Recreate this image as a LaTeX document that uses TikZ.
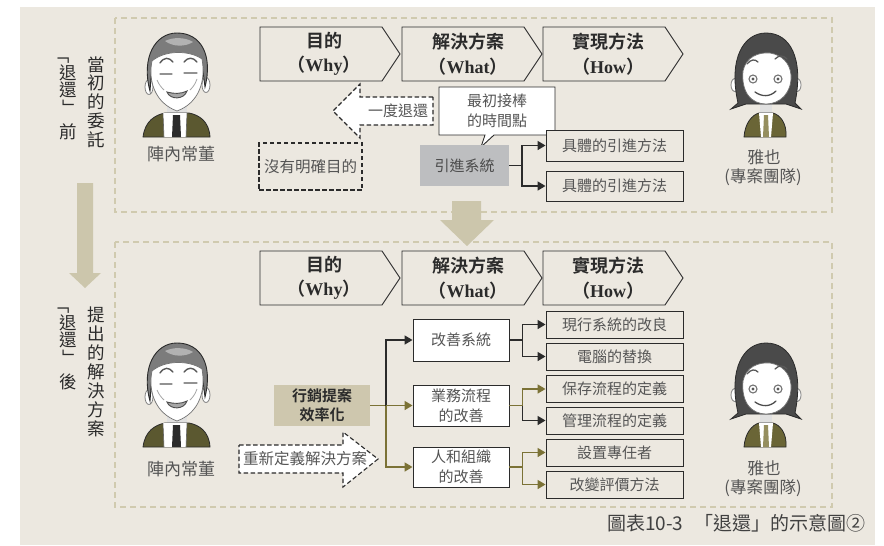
\documentclass[tikz,border=0pt]{standalone}
\usepackage{fontspec}
\newfontfamily\cjk{Noto Sans CJK TC}[BoldFont={Noto Sans CJK TC Bold}]
\newfontfamily\latinb{Liberation Serif}
\usetikzlibrary{arrows.meta}

\definecolor{paper}{HTML}{ECE8E0}
\definecolor{framec}{HTML}{D0CAAF}
\definecolor{bigarrow}{HTML}{CCC6AC}
\definecolor{olive}{HTML}{7B7236}
\definecolor{ink}{HTML}{2B2B2B}
\definecolor{soft}{HTML}{555555}
\definecolor{graybox}{HTML}{BDBEC0}
\definecolor{goalfill}{HTML}{CEC7AE}
\definecolor{jacket}{HTML}{5B5830}
\definecolor{jacketw}{HTML}{6A6536}
\definecolor{hairm}{HTML}{7C7C7C}
\definecolor{hairw}{HTML}{4A4A4A}

\tikzset{
  frameline/.style={draw=framec, line width=2.4pt, dash pattern=on 6pt off 4pt},
  head/.style={align=center, font=\cjk\bfseries\fontsize{18}{24.5}\selectfont, text=ink, inner sep=0pt},
  plainbox/.style={draw=ink, line width=0.9pt, inner sep=0pt, minimum width=137pt, minimum height=27pt,
    font=\cjk\fontsize{15}{20}\selectfont, text=soft, fill=paper},
  whitebox/.style={draw=ink, line width=0.9pt, inner sep=0pt, minimum width=96pt,
    align=center, font=\cjk\fontsize{15}{20}\selectfont, text=soft, fill=white},
  dashline/.style={draw=ink, line width=1.1pt, dash pattern=on 4.5pt off 2.5pt},
  conn/.style={draw=ink, line width=1.5pt, -{Triangle[length=8pt,width=9pt]}},
  oconn/.style={draw=olive, line width=1.5pt, -{Triangle[length=8pt,width=9pt]}},
  oline/.style={draw=olive, line width=1.5pt},
  vtext/.style={font=\cjk\fontsize{17.5}{17.5}\selectfont, text=ink, inner sep=0pt},
  label/.style={font=\cjk\fontsize{16.5}{20}\selectfont, text=soft, inner sep=0pt},
  captext/.style={font=\cjk\fontsize{19}{22}\selectfont, text=ink!90, inner sep=0pt},
  chevron/.pic={\draw[line width=0.9pt, draw=ink, fill=paper]
      (0,0) -- (122,0) -- (140,27) -- (122,54) -- (0,54) -- cycle;},
  man/.pic={
    % ears
    \draw[gray, fill=white, line width=0.8pt] (-28,54) ellipse [x radius=4, y radius=7.5];
    \draw[gray, fill=white, line width=0.8pt] (29,52) ellipse [x radius=4, y radius=7.5];
    % neck
    \fill[black!12] (-10,68) rectangle (10,84);
    % jacket, shirt and tie
    \draw[ink, fill=jacket, line width=0.8pt] (-34,104) .. controls (-32,88) and (-22,82) .. (-12,80)
      -- (12,80) .. controls (22,82) and (32,88) .. (33,104) -- cycle;
    \fill[white] (-14,80) -- (10,80) -- (9,104) -- (-13,104) -- cycle;
    \draw[black!60, line width=0.6pt] (-14,80) -- (-13,104) (10,80) -- (9,104);
    \fill[ink] (-4,82) -- (3,82) -- (4,104) -- (-5,104) -- cycle;
    % hair
    \draw[ink, fill=hairm, line width=0.9pt] (-27,58) .. controls (-36,25) and (-22,0) .. (0,0)
      .. controls (24,0) and (36,22) .. (28,54) -- (25,30) .. controls (12,18) and (-12,18) .. (-25,32) -- cycle;
    \fill[black!30] (-12,8) .. controls (-4,4) and (8,4) .. (16,9) .. controls (8,14) and (-4,14) .. cycle;
    % face
    \draw[black!55, fill=white, line width=0.7pt] (-25,28) .. controls (-12,17) and (12,17) .. (25,26)
      .. controls (29,48) and (22,70) .. (0,78) .. controls (-22,70) and (-29,48) .. cycle;
    % brows, closed eyes, mouth
    \draw[black!65, line width=1.4pt, line cap=round]
      (-17,30) .. controls (-13,24) and (-8,24) .. (-4,29)
      (7,29) .. controls (11,24) and (16,24) .. (20,29)
      (-17,41) -- (-5,41) (7,40) -- (20,40);
    \draw[black!35, line width=0.8pt] (-20,47) .. controls (-18,52) and (-15,55) .. (-13,57)
      (20,46) .. controls (18,52) and (15,55) .. (13,57);
    \draw[black!70, fill=black!35, line width=0.9pt] (-10,59) .. controls (-3,61) and (4,61) .. (10,58)
      .. controls (7,67) and (-7,67) .. cycle;
  },
  woman/.pic={
    % ears
    \draw[gray, fill=white, line width=0.8pt] (-31,52) ellipse [x radius=4, y radius=6.5];
    \draw[gray, fill=white, line width=0.8pt] (31,52) ellipse [x radius=4, y radius=6.5];
    % neck
    \fill[black!12] (-6,66) rectangle (6,84);
    % back hair
    \draw[ink, fill=hairw, line width=0.8pt] (-28,70) .. controls (-38,25) and (-22,0) .. (0,0)
      .. controls (24,0) and (38,25) .. (29,70) -- (35,76) -- (20,71) -- (-20,71) -- (-35,76) -- cycle;
    % jacket, collar and tie
    \draw[ink, fill=jacketw, line width=0.8pt] (-22,104) .. controls (-21,90) and (-14,82) .. (-7,80)
      -- (7,80) .. controls (14,82) and (21,90) .. (20,104) -- cycle;
    \fill[white] (-7,80) -- (7,80) -- (5,104) -- (-5,104) -- cycle;
    \fill[olive!80] (-2,82) -- (2,82) -- (3,104) -- (-3,104) -- cycle;
    % face under the fringe
    \draw[black!55, fill=white, line width=0.7pt] (-23,38) .. controls (-20,24) and (-8,19) .. (4,20)
      .. controls (16,22) and (24,30) .. (25,42) .. controls (26,60) and (14,71) .. (0,71)
      .. controls (-14,71) and (-25,60) .. cycle;
    % brows, eyes, smile
    \draw[black!65, line width=1.3pt, line cap=round]
      (-19,31) .. controls (-15,26) and (-11,26) .. (-8,29)
      (9,26) .. controls (13,22) and (17,22) .. (21,26);
    \draw[black!55, fill=white, line width=1.1pt] (-13,46) circle [radius=4] (12,46) circle [radius=4];
    \fill[black!65] (-13,46) circle [radius=1.6] (12,46) circle [radius=1.6];
    \draw[black!70, line width=1.3pt, line cap=round] (-11,59) .. controls (-4,64) and (4,64) .. (10,58);
  }
}

\begin{document}
\begin{tikzpicture}[x=1pt,y=-1pt]
\useasboundingbox (0,0) rectangle (884,546);
\fill[paper] (20,7) rectangle (875,545);

% the two dashed frames
\draw[frameline] (115,18) rectangle (832,212);
\draw[frameline] (115,242) rectangle (832,507);

% left: the big downward arrow
\fill[bigarrow] (77,183) -- (93,183) -- (93,273) -- (101,273) -- (85,288) -- (69,273) -- (77,273) -- cycle;
% centre: arrow between the frames
\fill[bigarrow] (452,201) -- (481,201) -- (481,220) -- (494,220) -- (467,246) -- (440,220) -- (452,220) -- cycle;

% vertical captions (corner brackets turned for vertical setting)
\foreach \c [count=\i from 0] in {當,初,的,委,託}
  \node[vtext] (vta\i) at (96,64.5+18.75*\i) {\c};
\node[vtext, rotate=-90] (vtb1) at (62,55) {「};
\node[vtext] (vtb2) at (68,72.5) {退};
\node[vtext] (vtb3) at (68,90) {還};
\node[vtext, rotate=-90] (vtb4) at (69,108) {」};
\node[vtext] (vtb5) at (68,131.5) {前};
\foreach \c [count=\i from 0] in {提,出,的,解,決,方,案}
  \node[vtext] (vtc\i) at (96,314.5+19*\i) {\c};
\node[vtext, rotate=-90] (vtd1) at (62,305) {「};
\node[vtext] (vtd2) at (68,322.5) {退};
\node[vtext] (vtd3) at (68,340) {還};
\node[vtext, rotate=-90] (vtd4) at (69,358) {」};
\node[vtext] (vtd5) at (68,381.5) {後};

% people
\pic at (177,33) {man};
\pic at (177,343) {man};
\pic at (766,33) {woman};
\pic at (766,343) {woman};
\node[label, font=\cjk\fontsize{17}{20}\selectfont] (boss1) at (181,154) {陣內常董};
\node[label, font=\cjk\fontsize{17}{20}\selectfont] (boss2) at (181,469) {陣內常董};
\node[label] (team1a) at (764,157) {雅也};
\node[label] (team1b) at (763,177) {(專案團隊)};
\node[label] (team2a) at (764,468) {雅也};
\node[label] (team2b) at (763,488) {(專案團隊)};

% header chevrons
\foreach \y/\r in {27/a,251/b} {
  \pic at (260,\y) {chevron};
  \pic at (402,\y) {chevron};
  \pic at (543,\y) {chevron};
  \node[head] (why\r) at (324,\y+27) {目的\\（{\latinb\bfseries Why}）};
  \node[head] (what\r) at (468,\y+27) {解決方案\\（{\latinb\bfseries What}）};
  \node[head] (how\r) at (608,\y+27) {實現方法\\（{\latinb\bfseries How}）};
}

% ---- upper frame: the original request ----
\draw[dashline, fill=white] (433,97) -- (360,97) -- (360,84) -- (333,111) -- (360,138) -- (360,125) -- (433,125) -- cycle;
\node[label, font=\cjk\fontsize{15}{20}\selectfont] (back) at (398,111) {一度退還};
\node[dashline, minimum width=103pt, minimum height=47pt, inner sep=0pt,
  font=\cjk\fontsize{15.5}{20}\selectfont, text=soft] (noaim) at (310.5,166.5) {沒有明確目的};

\draw[ink, line width=0.9pt, fill=white] (439,87) -- (555,87) -- (555,135) -- (494,135) -- (481,147) -- (485,135) -- (439,135) -- cycle;
\node[align=center, font=\cjk\fontsize{15}{20}\selectfont, text=soft, inner sep=0pt] (handover) at (497,111) {最初接棒\\的時間點};

\node[fill=graybox, minimum width=89pt, minimum height=41pt, inner sep=0pt,
  font=\cjk\fontsize{15}{20}\selectfont, text=ink!85] (intro) at (464.5,165.5) {引進系統};
\node[plainbox, minimum height=31pt] (m1) at (614.5,145.5) {具體的引進方法};
\node[plainbox, minimum height=30pt] (m2) at (614.5,186) {具體的引進方法};
\draw[conn] (intro.east) -- ++(13,0) |- (m1.west);
\draw[conn] (intro.east) -- ++(13,0) |- (m2.west);

% ---- lower frame: the solution proposed after the rejection ----
\node[fill=goalfill, minimum width=96pt, minimum height=41pt, inner sep=0pt, align=center,
  font=\cjk\bfseries\fontsize{15}{19}\selectfont, text=ink] (goal) at (322,405.5) {行銷提案\\效率化};

\draw[dashline, fill=white] (239,445) -- (343,445) -- (343,432) -- (378,459) -- (343,487) -- (343,473) -- (239,473) -- cycle;
\node[label, font=\cjk\fontsize{15.5}{20}\selectfont] (redef) at (305,459) {重新定義解決方案};

\node[whitebox, minimum height=42pt] (s1) at (461,340) {改善系統};
\node[whitebox, minimum height=41pt] (s2) at (461,405.5) {業務流程\\的改善};
\node[whitebox, minimum height=40pt] (s3) at (461,467) {人和組織\\的改善};

\node[plainbox] (r1) at (614.5,324.5) {現行系統的改良};
\node[plainbox] (r2) at (614.5,356.5) {電腦的替換};
\node[plainbox] (r3) at (614.5,389) {保存流程的定義};
\node[plainbox] (r4) at (614.5,420.5) {管理流程的定義};
\node[plainbox] (r5) at (614.5,452.5) {設置專任者};
\node[plainbox] (r6) at (614.5,484.5) {改變評價方法};

\coordinate (j0) at (386,405.5);
\draw[oline] (goal.east) -- (j0);
\draw[conn] (j0) |- (s1.west);
\draw[oconn] (j0) -- (s2.west);
\draw[oconn] (j0) |- (s3.west);

\coordinate (j1) at ([xshift=13pt]s1.east);
\coordinate (j2) at ([xshift=13pt]s2.east);
\coordinate (j3) at ([xshift=13pt]s3.east);
\draw[ink, line width=1.5pt] (s1.east) -- (j1);
\draw[conn] (j1) |- (r1.west);
\draw[conn] (j1) |- (r2.west);
\draw[oline] (s2.east) -- (j2);
\draw[oconn] (j2) |- (r3.west);
\draw[conn] (j2) |- (r4.west);
\draw[oline] (s3.east) -- (j3);
\draw[oconn] (j3) |- (r5.west);
\draw[oconn] (j3) |- (r6.west);

% figure caption
\node[captext, anchor=west] (capnum) at (607,523) {圖表10-3};
\node[captext, anchor=east] (captitle) at (866,523) {「退還」的示意圖②};
\end{tikzpicture}
\end{document}
